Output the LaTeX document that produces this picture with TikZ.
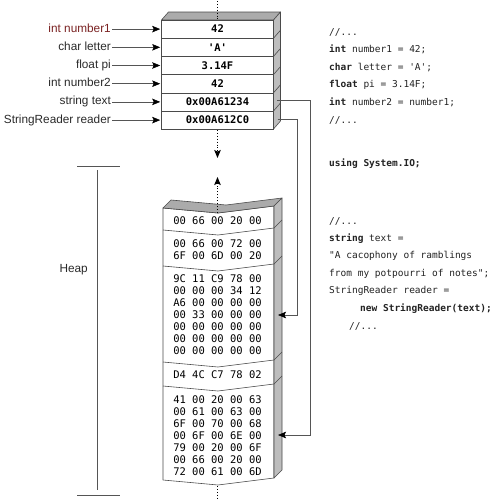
\documentclass[tikz,border=0pt]{standalone}
\usepackage{fontspec}
\setmainfont{Liberation Sans}
\setmonofont{DejaVu Sans Mono}
\usetikzlibrary{arrows.meta}
\definecolor{boxline}{HTML}{4A4A4A}
\definecolor{facegray}{HTML}{BDBDBD}
\definecolor{topgray}{HTML}{ABABAB}
\definecolor{linegray}{HTML}{555555}
\definecolor{labelcol}{HTML}{2A2A2A}
\definecolor{redlbl}{HTML}{7A2222}
\definecolor{codecol}{HTML}{222222}
\begin{document}
\begin{tikzpicture}[x=1pt,y=-1pt,
  conn/.style={draw=linegray, line width=0.6pt},
  tip/.style={-{Stealth[length=8pt,width=6.5pt,inset=1.5pt,color=black]}},
  dots/.style={draw=black, line width=0.9pt, dash pattern=on 0.9pt off 2pt},
  face/.style={fill=facegray, draw=boxline, line width=0.6pt, line join=round},
  topface/.style={fill=topgray, draw=boxline, line width=0.6pt, line join=round},
  frontface/.style={fill=white, draw=boxline, line width=0.6pt, line join=round},
  lbl/.style={anchor=east, font=\fontsize{11.8}{13}\selectfont, text=labelcol, inner sep=1pt, text height=8.5pt, text depth=2.5pt},
  stackval/.style={font=\ttfamily\bfseries\fontsize{10.5}{12}\selectfont, minimum width=112pt, minimum height=18.2pt, inner sep=0pt, draw=boxline, line width=0.6pt, fill=white},
  heapval/.style={font=\ttfamily\fontsize{10.5}{12}\selectfont, align=left, inner sep=0pt},
  codeline/.style={anchor=base west, font=\ttfamily\fontsize{9.5}{11}\selectfont, text=codecol, inner sep=0pt},
  bracket/.style={draw=linegray, line width=0.7pt}
]
\useasboundingbox (0,0) rectangle (500,498);

% ---------------- stack ----------------
\draw[topface] (161.5,20) -- (168.5,12) -- (280.5,12) -- (273.5,20) -- cycle;
\draw[face] (273.5,20) -- (280.5,12) -- (280.5,121) -- (273.5,129) -- cycle;
\foreach \k in {1,...,5} {
  \draw[boxline, line width=0.6pt] (273.5,{20+18.2*\k}) -- (280.5,{12+18.2*\k});
}
\node[stackval] (s1) at (217.5,29.1) {42};
\node[stackval] (s2) at (217.5,47.3) {'A'};
\node[stackval] (s3) at (217.5,65.5) {3.14F};
\node[stackval] (s4) at (217.5,83.7) {42};
\node[stackval] (s5) at (217.5,101.9) {0x00A61234};
\node[stackval] (s6) at (217.5,120.1) {0x00A612C0};

\coordinate (stacktop) at (217.5,1);
\coordinate (stackin) at (217.5,20);
\draw[dots] (stacktop) -- (stackin);
\coordinate (stackout) at (217.5,130);
\coordinate (downtip) at (217.5,158);
\draw[dots, tip] (stackout) -- (downtip);

% labels
\node[lbl, text=redlbl] (l1) at (112,29.1) {int number1};
\node[lbl] (l2) at (112,47.3) {char letter};
\node[lbl] (l3) at (112,65.5) {float pi};
\node[lbl] (l4) at (112,83.7) {int number2};
\node[lbl] (l5) at (112,101.9) {string text};
\node[lbl] (l6) at (112,120.1) {StringReader reader};
\foreach \i in {1,...,6} {
  \draw[conn, tip] (l\i.east) -- ([xshift=-1pt]s\i.west);
}

% ---------------- heap ----------------
\def\L{163}\def\M{218}\def\R{274}\def\D{8}
\def\T{208}\def\B{480}
\draw[frontface] (\L,\T) -- (\M,\T+5) -- (\R,\T-2) -- (\R,\B-2) -- (\M,\B+5) -- (\L,\B) -- cycle;
\draw[topface] (\L,\T) -- (\M,\T+5) -- (\R,\T-2) -- (\R+\D,\T-10) -- (\M+\D,\T-3) -- (\L+\D,\T-8) -- cycle;
\draw[face] (\R,\T-2) -- (\R+\D,\T-10) -- (\R+\D,\B-10) -- (\R,\B-2) -- cycle;
\foreach \b in {230,266,362,386} {
  \draw[boxline, line width=0.6pt, line join=round] (\L,\b) -- (\M,\b+5) -- (\R,\b-2) -- (\R+\D,\b-10);
}

\node[heapval] (h1) at (217.5,221) {00 66 00 20 00};
\node[heapval] (h2) at (217.5,249.5) {00 66 00 72 00\\6F 00 6D 00 20};
\node[heapval] (h3) at (217.5,315) {9C 11 C9 78 00\\00 00 00 34 12\\A6 00 00 00 00\\00 33 00 00 00\\00 00 00 00 00\\00 00 00 00 00\\00 00 00 00 00};
\node[heapval] (h4) at (217.5,375) {D4 4C C7 78 02};
\node[heapval] (h5) at (217.5,436) {41 00 20 00 63\\00 61 00 63 00\\6F 00 70 00 68\\00 6F 00 6E 00\\79 00 20 00 6F\\00 66 00 20 00\\72 00 61 00 6D};

\coordinate (heapin) at (217.5,212.5);
\coordinate (uptip) at (217.5,177);
\draw[dots, tip] (heapin) -- (uptip);
\coordinate (heapout) at (217.5,486);
\coordinate (heapend) at (217.5,498);
\draw[dots] (heapout) -- (heapend);

% connectors from stack to heap
\coordinate (c5) at (277,100);
\coordinate (c6) at (277.5,119);
\coordinate (t5) at (278,435);
\coordinate (t3) at (278,315);
\draw[conn, tip] (c5) -- (310,100) -- (310,435) -- (t5);
\draw[conn, tip] (c6) -- (297,119) -- (297,315) -- (t3);

% heap bracket
\coordinate (bt1) at (77,166);
\coordinate (bt2) at (120,166);
\coordinate (bb1) at (77,495);
\coordinate (bb2) at (120,495);
\coordinate (bv1) at (97,170);
\coordinate (bv2) at (97,490);
\draw[bracket] (bt1) -- (bt2);
\draw[bracket] (bb1) -- (bb2);
\draw[bracket] (bv1) -- (bv2);
\node[lbl] (heaplbl) at (89,269) {Heap};

% ---------------- code ----------------
\node[codeline] (k1) at (329,35.2) {//...};
\node[codeline] (k2) at (329,52.8) {\textbf{int} number1 = 42;};
\node[codeline] (k3) at (329,70.3) {\textbf{char} letter = 'A';};
\node[codeline] (k4) at (329,87.9) {\textbf{float} pi = 3.14F;};
\node[codeline] (k5) at (329,105.5) {\textbf{int} number2 = number1;};
\node[codeline] (k6) at (329,123.5) {//...};
\node[codeline] (k7) at (329,166.8) {\textbf{using System.IO;}};

\node[codeline] (k8) at (329,224) {//...};
\node[codeline] (k9) at (329,241) {\textbf{string} text =};
\node[codeline] (k10) at (329,258.5) {"A cacophony of ramblings};
\node[codeline] (k11) at (329,276) {from my potpourri of notes";};
\node[codeline] (k12) at (329,293.5) {StringReader reader =};
\node[codeline] (k13) at (360,311) {\textbf{new StringReader(text);}};
\node[codeline] (k14) at (349,329.5) {//...};
\end{tikzpicture}
\end{document}
